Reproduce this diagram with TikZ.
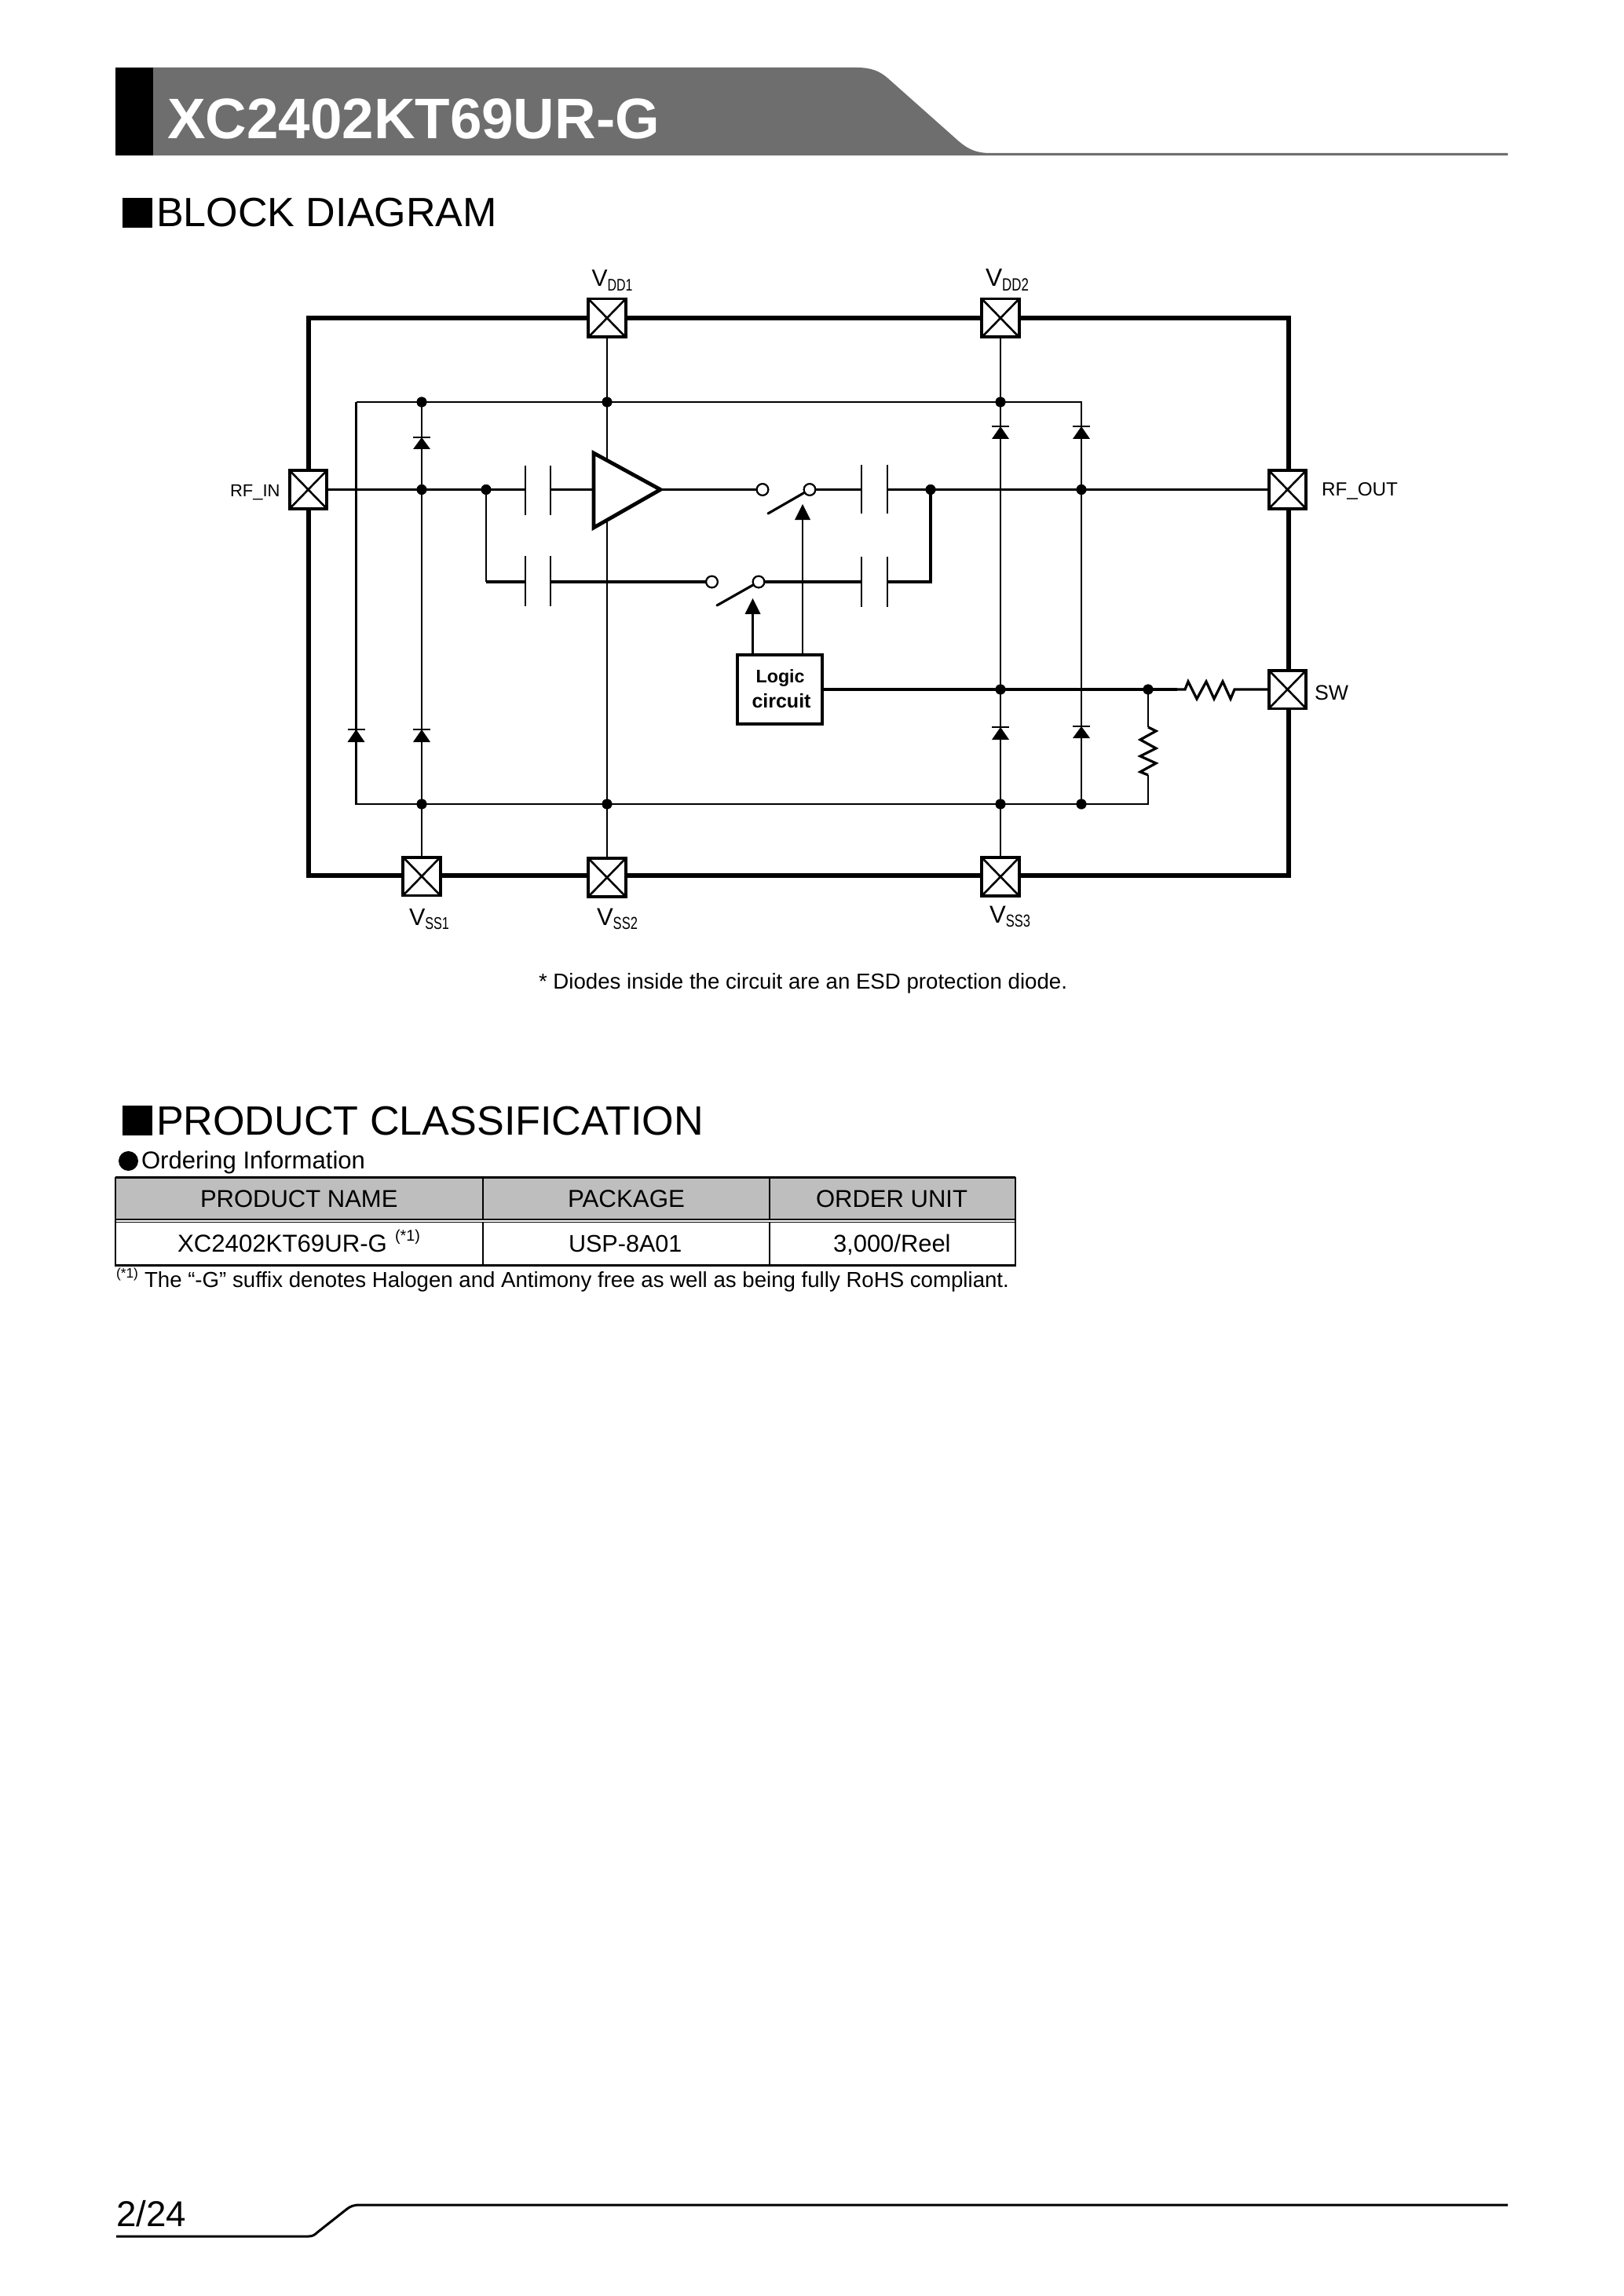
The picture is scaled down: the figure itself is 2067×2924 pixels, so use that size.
\documentclass[tikz,border=0pt]{standalone}
\usepackage{fontspec}
\usepackage{graphicx}
\setmainfont{Liberation Sans}
% reference pixels: 1 px = 0.48 bp, y downwards
\newcommand{\px}[1]{\pgfmathsetlengthmacro\tmpfs{#1*0.48*1.00375}\fontsize{\tmpfs}{\tmpfs}\selectfont}
\newcommand{\fitw}[2]{\pgfmathsetlengthmacro\tmpw{#1*0.48*1.00375}\resizebox{\tmpw}{!}{#2}}
\newcommand{\vsub}[2]{\px{31}#1\raisebox{-2.7pt}{\scalebox{0.75}[1]{\px{22}#2}}}
\definecolor{hdgray}{HTML}{6E6E6E}
\definecolor{thgray}{HTML}{BEBEBE}
\tikzset{
  x=0.48bp,y=-0.48bp,
  frameline/.style={line width=2.5bp,line join=miter},
  wire/.style={line width=1.25bp,line join=miter},
  wirethk/.style={line width=1.55bp,line join=miter},
  padbox/.style={draw,line width=1.8bp,fill=white,minimum width=22.8bp,minimum height=23.4bp,inner sep=0pt,outer sep=0pt},
  padx/.style={line width=1.25bp},
  dotj/.style={circle,fill=black,inner sep=0pt,outer sep=0pt,minimum size=6.2bp},
  ring/.style={circle,draw,fill=white,line width=1bp,inner sep=0pt,outer sep=0pt,minimum size=7bp},
  blade/.style={line width=1.5bp,line cap=round},
  plate/.style={line width=1.25bp},
  txt/.style={inner sep=0pt,outer sep=0pt,anchor=base west},
  tbl/.style={line width=1.3bp},
  logicbox/.style={draw,line width=1.6bp,fill=white,minimum width=51.8bp,minimum height=42.2bp,inner sep=0pt,outer sep=0pt},
}
\newcommand{\pad}[3]{%
  \node[padbox] (#1) at (#2,#3) {};
  \draw[padx] (#1.north west) -- (#1.south east) (#1.north east) -- (#1.south west);
}
\newcommand{\diode}[3]{%
  \fill (#1-11,#3) -- (#1+11,#3) -- (#1,#2) -- cycle;
  \draw[line width=1.3bp] (#1-11,#2) -- (#1+11,#2);
}
\begin{document}
\begin{tikzpicture}
\useasboundingbox (0,0) rectangle (2067,2924);
\fill[white] (0,0) rectangle (2067,2924);
% ---------- header
\fill[hdgray] (195,86) -- (1091,86) .. controls (1108,86) and (1120,90) .. (1131,100)
  -- (1221,180) .. controls (1234,191) and (1244,195) .. (1262,195)
  -- (1920,195) -- (1920,198) -- (195,198) -- cycle;
\fill[black] (147,86) rectangle (195,198);
\node[txt,text=white] (title) at (213,177) {\fitw{627}{\px{75}\bfseries XC2402KT69UR-G}};
% ---------- section headings
\fill[black] (156,252) rectangle (194,290);
\node[txt] (h1) at (199,289) {\fitw{434}{\px{52}BLOCK DIAGRAM}};
\fill[black] (156,1408) rectangle (194,1446);
\node[txt] (h2) at (199,1445) {\fitw{697}{\px{52}PRODUCT CLASSIFICATION}};
% ---------- chip frame
\draw[frameline] (393,405) rectangle (1641,1115);
% ---------- junctions and corners
\coordinate (cTL) at (453.5,512);
\coordinate (cBL) at (453.5,1024);
\coordinate (cTR) at (1377,512);
\coordinate (cBR) at (1462,1024);
\coordinate (cLow) at (619,741);
\coordinate (cLowR) at (1185,741);
\coordinate (rStart) at (1499,878);
\coordinate (c1a) at (669,623.5); \coordinate (c1b) at (701,623.5);
\coordinate (c2a) at (669,741);   \coordinate (c2b) at (701,741);
\coordinate (c3a) at (1097,623.5);\coordinate (c3b) at (1130,623.5);
\coordinate (c4a) at (1097,741);  \coordinate (c4b) at (1130,741);
\coordinate (ampin) at (756,623.5);
\coordinate (amptip) at (841,623.5);
\node[ring] (s1a) at (971,623.5) {};
\node[ring] (s1b) at (1031,623.5) {};
\node[ring] (s2a) at (906.5,741) {};
\node[ring] (s2b) at (966,741) {};
\node[logicbox] (logic) at (993,878) {};
\coordinate (ctl1) at (958.6,782);
\coordinate (ctl2) at (1022,662);
\coordinate (ctl1t) at (958.6,762);
\coordinate (ctl2t) at (1022,642);
\coordinate (ctl1b) at (958.6,834);
\coordinate (ctl2b) at (1022,834);
% pads first, so wires stop at their edges
\pad{vddone}{773}{405}
\pad{vddtwo}{1274}{405}
\pad{rfin}{392.5}{623.5}
\pad{rfout}{1639.5}{623.5}
\pad{sw}{1639.5}{878}
\pad{vssone}{537}{1116}
\pad{vsstwo}{773}{1117.5}
\pad{vssthree}{1274}{1116.5}
% junction dots
\node[dotj] (jt1) at (537,512) {};
\node[dotj] (jt2) at (773,512) {};
\node[dotj] (jt3) at (1274,512) {};
\node[dotj] (js1) at (537,623.5) {};
\node[dotj] (js2) at (619,623.5) {};
\node[dotj] (js3) at (1185,623.5) {};
\node[dotj] (js4) at (1377,623.5) {};
\node[dotj] (jl1) at (1274,878) {};
\node[dotj] (jl2) at (1462,878) {};
\node[dotj] (jb1) at (537,1024) {};
\node[dotj] (jb2) at (773,1024) {};
\node[dotj] (jb3) at (1274,1024) {};
\node[dotj] (jb4) at (1377,1024) {};
% wires
\draw[wire] (cTL) -- (jt1) -- (jt2) -- (jt3) -- (cTR) -- (js4) -- (jb4);
\draw[wire] (cTL) -- (cBL) -- (jb1) -- (jb2) -- (jb3) -- (jb4) -- (cBR) -- (1462,987);
\draw[wire] (jt1) -- (js1) -- (jb1) -- (vssone.north);
\draw[wire] (vddone.south) -- (jt2) -- (jb2) -- (vsstwo.north);
\draw[wire] (vddtwo.south) -- (jt3) -- (jl1) -- (jb3) -- (vssthree.north);
\draw[wire] (rfin.east) -- (js1) -- (js2) -- (c1a);
\draw[wire] (c1b) -- (ampin);
\draw[wire] (amptip) -- (s1a);
\draw[wire] (s1b) -- (c3a);
\draw[wire] (c3b) -- (js3) -- (js4) -- (rfout.west);
\draw[wire] (js2) -- (cLow);
\draw[wirethk] (cLow) -- (c2a);
\draw[wirethk] (c2b) -- (s2a);
\draw[wirethk] (s2b) -- (c4a);
\draw[wirethk] (c4b) -- (cLowR) -- (js3);
\draw[wire] (ctl1b) -- (ctl1);
\draw[wire] (ctl2b) -- (ctl2);
\draw[wirethk] (logic.east) -- (jl1) -- (jl2) -- (rStart);
\draw[wire] (jl2) -- (1462,926);
% resistors
\draw[wirethk] (rStart) -- (1509,878) -- (1513,868) -- (1524,890) -- (1536,868) -- (1546,890) -- (1557,868) -- (1567,890) -- (1572,878) -- (sw.west);
\draw[wirethk] (1462,926) -- (1472,931) -- (1452,942) -- (1472,953) -- (1452,963) -- (1472,972) -- (1452,983) -- (1462,987);
% capacitor plates
\foreach \cx in {669,701}{\draw[plate] (\cx,593) -- (\cx,656); \draw[plate] (\cx,708) -- (\cx,772);}
\foreach \cx in {1097,1130}{\draw[plate] (\cx,592) -- (\cx,654); \draw[plate] (\cx,709) -- (\cx,773);}
% amplifier
\draw[line width=2.3bp,fill=white,line join=miter] (756,577) -- (amptip) -- (756,672) -- cycle;
% rings and switch blades
\node[ring] at (s1a) {};
\node[ring] at (s1b) {};
\node[ring] at (s2a) {};
\node[ring] at (s2b) {};
\draw[blade] (978,654) -- (s1b);
\draw[blade] (913,771) -- (s2b);
\fill (1012,662) -- (1032,662) -- (ctl2t) -- cycle;
\fill (948.6,782) -- (968.6,782) -- (ctl1t) -- cycle;
% diodes
\diode{537}{557}{572}
\diode{1274}{543}{559}
\diode{1377}{543}{559}
\diode{453.5}{929}{945}
\diode{537}{929}{945}
\diode{1274}{926}{942}
\diode{1377}{925}{940}
% redraw dots above wires
\foreach \j in {jt1,jt2,jt3,js1,js2,js3,js4,jl1,jl2,jb1,jb2,jb3,jb4}{\node[dotj] at (\j) {};}
% logic label
\node[logicbox] (logicb) at (logic) {};
\node[txt] (llogic) at (962.6,869) {\fitw{62}{\px{26}\bfseries Logic}};
\node[txt] (lcirc) at (957.5,901) {\fitw{75}{\px{26}\bfseries circuit}};
% pad labels
\node[txt] (lvdd1) at (753.5,365) {\fitw{52}{\vsub{V}{DD1}}};
\node[txt] (lvdd2) at (1255,365) {\fitw{55}{\vsub{V}{DD2}}};
\node[txt] (lvss1) at (521,1178) {\fitw{51}{\vsub{V}{SS1}}};
\node[txt] (lvss2) at (760,1178) {\fitw{52}{\vsub{V}{SS2}}};
\node[txt] (lvss3) at (1260,1175) {\fitw{52}{\vsub{V}{SS3}}};
\node[txt] (lrfin) at (293,632) {\fitw{63.5}{\px{28}RF\_IN}};
\node[txt] (lrfout) at (1683,632) {\fitw{97}{\px{28}RF\_OUT}};
\node[txt] (lsw) at (1674,891) {\fitw{43}{\px{30}SW}};
\node[txt] (fnote) at (686,1259) {\fitw{673}{\px{27}* Diodes inside the circuit are an ESD protection diode.}};
% ---------- ordering information
\fill (163.5,1478.5) circle[radius=12.5*0.48bp];
\node[txt] (oinfo) at (180,1488) {\fitw{285}{\px{30}Ordering Information}};
\fill[thgray] (147,1500) rectangle (1293,1553);
\draw[line width=1.7bp] (147,1499.5) -- (1293,1499.5);
\draw[line width=1.3bp] (147,1553) -- (1293,1553);
\draw[line width=0.8bp] (147,1556.5) -- (1293,1556.5);
\draw[tbl] (147,1498.5) -- (147,1611.5) -- (1293,1611.5) -- (1293,1498.5);
\draw[tbl] (615,1499) -- (615,1553) (615,1557) -- (615,1611);
\draw[tbl] (980,1499) -- (980,1553) (980,1557) -- (980,1611);
\node[txt] (t1) at (255,1537) {\fitw{251.5}{\px{30}PRODUCT NAME}};
\node[txt] (t2) at (723,1537) {\fitw{149}{\px{30}PACKAGE}};
\node[txt] (t3) at (1039,1537) {\fitw{193}{\px{30}ORDER UNIT}};
\node[txt] (t4) at (226,1594) {\fitw{267}{\px{30}XC2402KT69UR-G}};
\node[txt] (t4s) at (503,1580) {\fitw{32}{\px{18}(*1)}};
\node[txt] (t5) at (724,1594) {\fitw{144.5}{\px{30}USP-8A01}};
\node[txt] (t6) at (1061,1594) {\fitw{149.6}{\px{30}3,000/Reel}};
\node[txt] (n1s) at (148,1627) {\fitw{28}{\px{18}(*1)}};
\node[txt] (n1) at (184,1639) {\fitw{1101}{\px{28}The “-G” suffix denotes Halogen and Antimony free as well as being fully RoHS compliant.}};
% ---------- footer
\draw[line width=1.45bp] (148,2848) -- (393,2848) .. controls (398,2848) and (401,2846) .. (404,2843)
  -- (442,2813) .. controls (446,2810) and (450,2808) .. (458,2808) -- (1920,2808);
\node[txt] (pageno) at (148,2835) {\fitw{89}{\px{44}2/24}};
\end{tikzpicture}
\end{document}
